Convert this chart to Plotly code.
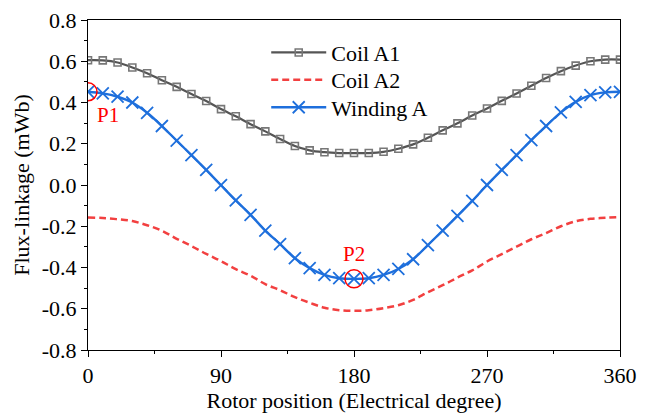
import plotly.graph_objects as go

angle = [0, 10, 20, 30, 40, 50, 60, 70, 80, 90, 100, 110, 120, 130, 140, 150, 160, 170, 180,
         190, 200, 210, 220, 230, 240, 250, 260, 270, 280, 290, 300, 310, 320, 330, 340, 350, 360]
coil_a1 = [0.605, 0.604, 0.594, 0.570, 0.542, 0.508, 0.476, 0.441, 0.407, 0.368, 0.333, 0.295,
           0.260, 0.223, 0.189, 0.168, 0.159, 0.155, 0.155, 0.155, 0.161, 0.176, 0.197, 0.229,
           0.265, 0.299, 0.337, 0.371, 0.408, 0.444, 0.481, 0.519, 0.552, 0.579, 0.600, 0.608, 0.608]
coil_a2 = [-0.157, -0.160, -0.166, -0.175, -0.195, -0.222, -0.261, -0.296, -0.334, -0.369,
           -0.408, -0.440, -0.481, -0.510, -0.544, -0.571, -0.595, -0.607, -0.610, -0.607,
           -0.597, -0.583, -0.557, -0.520, -0.486, -0.449, -0.414, -0.371, -0.335, -0.299,
           -0.263, -0.233, -0.200, -0.176, -0.164, -0.159, -0.156]
winding_a = [0.452, 0.444, 0.428, 0.400, 0.350, 0.286, 0.215, 0.145, 0.073, -0.001, -0.075,
             -0.145, -0.221, -0.287, -0.355, -0.403, -0.436, -0.452, -0.455, -0.452, -0.436,
             -0.407, -0.360, -0.291, -0.221, -0.150, -0.077, 0.000, 0.073, 0.145, 0.218, 0.286,
             0.352, 0.403, 0.436, 0.449, 0.452]

points_x = [0, 180]
points_y = [0.452, -0.455]
point_labels = ["P1", "P2"]

x_ticks = [0, 90, 180, 270, 360]
y_ticks = [-0.8, -0.6, -0.4, -0.2, 0.0, 0.2, 0.4, 0.6, 0.8]
y_tick_text = ["-0.8", "-0.6", "-0.4", "-0.2", "0.0", "0.2", "0.4", "0.6", "0.8"]

FONT = "'Times New Roman', 'Liberation Serif', serif"
FS = 22

fig = go.Figure()
fig.add_trace(go.Scatter(
    x=angle, y=coil_a1, name="Coil A1", mode="lines+markers", line_shape="spline", legend="legend",
    line=dict(color="#555555", width=2.2),
    marker=dict(symbol="square-open", size=7, color="#777777", line=dict(width=1.6, color="#777777")),
))
fig.add_trace(go.Scatter(
    x=angle, y=coil_a2, name="Coil A2", mode="lines", line_shape="spline", legend="legend2",
    line=dict(color="#F24040", width=2.5, dash="7px,4px"),
))
fig.add_trace(go.Scatter(
    x=angle, y=winding_a, name="Winding A", mode="lines+markers", line_shape="spline", legend="legend3",
    line=dict(color="#1E6FDC", width=2.4),
    marker=dict(symbol="x-thin-open", size=12, color="#1E6FDC", line=dict(width=1.8, color="#1E6FDC")),
))
fig.add_trace(go.Scatter(
    x=points_x, y=points_y, mode="markers", showlegend=False, hoverinfo="skip",
    marker=dict(symbol="circle-open", size=18, color="#FF0000", line=dict(width=1.5, color="#FF0000")),
))

fig.add_annotation(x=points_x[0], y=points_y[0], text=point_labels[0], showarrow=False,
                   xshift=20, yshift=-23, font=dict(family=FONT, size=21, color="#FF0000"))
fig.add_annotation(x=points_x[1], y=points_y[1], text=point_labels[1], showarrow=False,
                   xshift=0, yshift=25, font=dict(family=FONT, size=21, color="#FF0000"))

axis_common = dict(
    showline=True, linecolor="black", linewidth=1, mirror=True,
    ticks="outside", ticklen=6, tickwidth=1, tickcolor="black",
    showgrid=False, zeroline=False, automargin=False,
    tickfont=dict(family=FONT, size=FS, color="black"),
)

fig.update_xaxes(
    range=[0, 360], tickvals=x_ticks,
    title=dict(text="Rotor position (Electrical degree)", font=dict(family=FONT, size=FS, color="black"), standoff=0),
    minor=dict(dtick=45, tick0=0, ticks="outside", ticklen=3, tickcolor="black", showgrid=False),
    **axis_common,
)
fig.update_yaxes(
    range=[-0.8, 0.8], tickvals=y_ticks, ticktext=y_tick_text,
    title=dict(text="Flux-linkage (mWb)", font=dict(family=FONT, size=FS, color="black"), standoff=6),
    minor=dict(dtick=0.1, tick0=0, ticks="outside", ticklen=3, tickcolor="black", showgrid=False),
    **axis_common,
)

legend_common = dict(x=0.335, xanchor="left", yanchor="middle", bgcolor="rgba(0,0,0,0)",
                     font=dict(family=FONT, size=FS, color="black"), itemwidth=55)

fig.update_layout(
    width=651, height=413,
    margin=dict(l=88, r=31, t=20, b=63),
    paper_bgcolor="white", plot_bgcolor="white",
    font=dict(family=FONT, size=FS, color="black"),
    legend=dict(y=0.901, **legend_common),
    legend2=dict(y=0.818, **legend_common),
    legend3=dict(y=0.735, **legend_common),
    showlegend=True,
)

fig.write_html("out.html")
